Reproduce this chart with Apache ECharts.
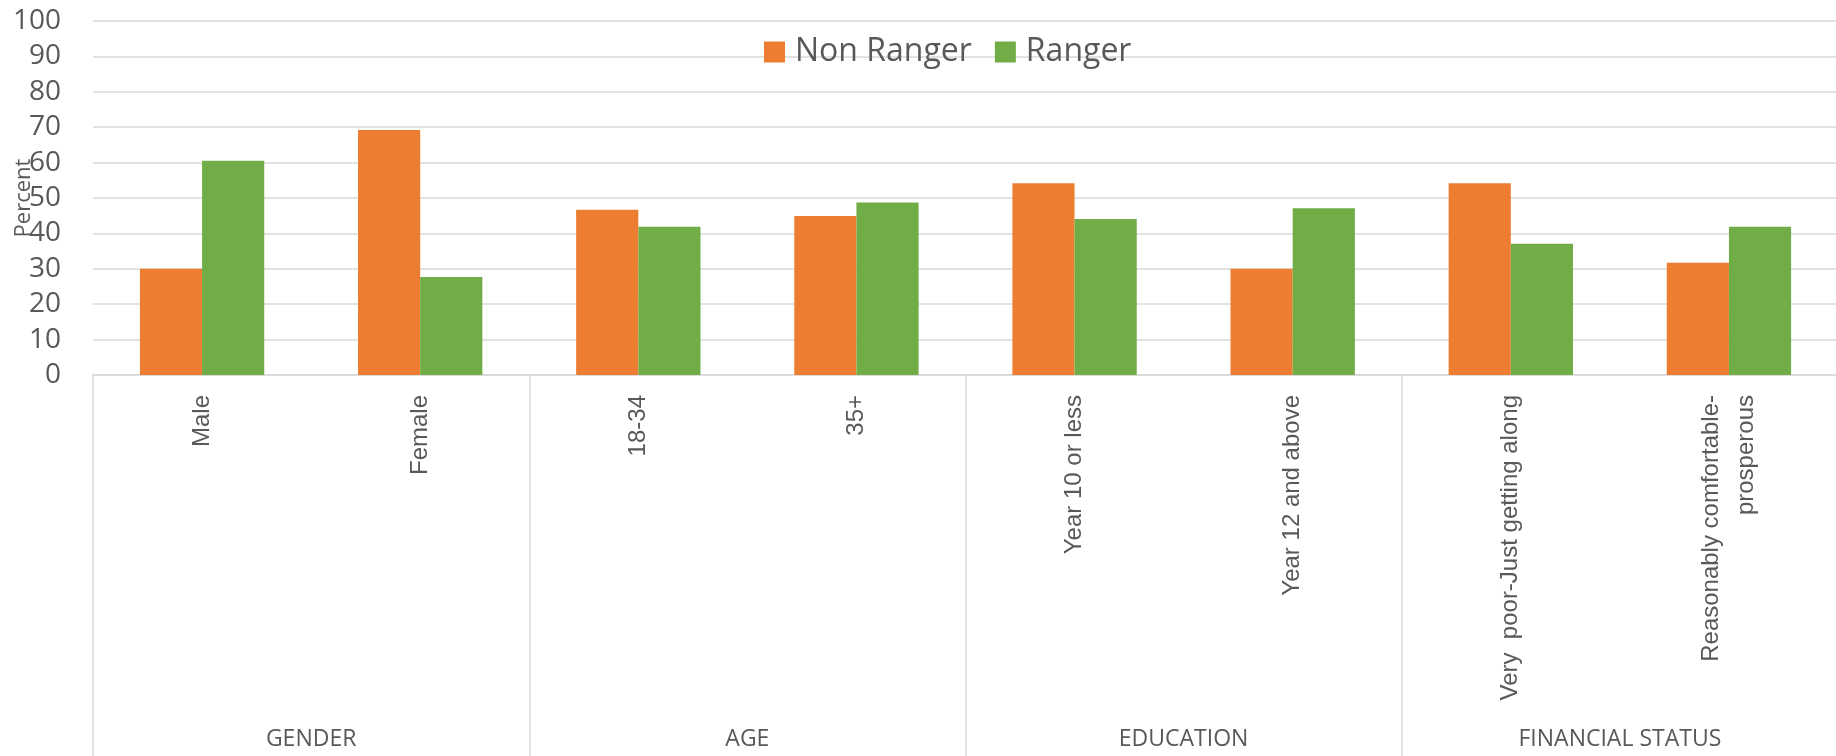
<!DOCTYPE html>
<html>
<head>
<meta charset="utf-8">
<title>Non Ranger vs Ranger</title>
<script src="https://cdn.jsdelivr.net/npm/echarts@6/dist/echarts.min.js"></script>
<style>
  html, body { margin: 0; padding: 0; background: #ffffff; }
  #chart { width: 1836px; height: 756px; }
</style>
</head>
<body>
<div id="chart"></div>
<script>
// Sub-groups along the bottom axis, and the headings they belong to
const categories = [
  'Male', 'Female',
  '18-34', '35+',
  'Year 10 or less', 'Year 12 and above',
  'Very  poor-Just getting along', 'Reasonably comfortable-\nprosperous'
];
const groups = ['GENDER', 'AGE', 'EDUCATION', 'FINANCIAL STATUS'];

// Percent of respondents in each sub-group
const nonRanger = [30, 69.2, 46.7, 44.9, 54.2, 30, 54.2, 31.7];
const ranger = [60.5, 27.7, 41.9, 48.7, 44.1, 47.1, 37.1, 41.9];

const yTicks = { min: 0, max: 100, interval: 10 };

const textGrey = '#595959';
const lineGrey = '#d9d9d9';

const chart = echarts.init(document.getElementById('chart'), null, { renderer: 'canvas' });

chart.setOption({
  animation: false,
  color: ['#ED7D31', '#70AD47'],
  grid: {
    left: 93, top: 21, width: 1745, bottom: 381,
    containLabel: false,
    outerBoundsMode: 'none'
  },
  legend: {
    data: ['Non Ranger', 'Ranger'],
    left: 759,
    top: 31,
    itemWidth: 21,
    itemHeight: 21,
    itemGap: 23,
    icon: 'rect',
    textStyle: { fontFamily: 'Open Sans', fontSize: 32, color: textGrey, padding: [0, 0, 0, 5] }
  },
  xAxis: [
    {
      type: 'category',
      data: categories,
      position: 'bottom',
      axisLine: { show: true, lineStyle: { color: lineGrey, width: 1.5 } },
      axisTick: { show: false },
      axisLabel: {
        rotate: 90,
        interval: 0,
        margin: 20,
        fontFamily: 'Liberation Sans',
        fontSize: 24,
        lineHeight: 35,
        color: textGrey
      }
    },
    {
      type: 'category',
      data: groups,
      position: 'bottom',
      axisLine: { show: false },
      axisTick: { show: true, length: 381, lineStyle: { color: lineGrey, width: 1.5 } },
      axisLabel: {
        interval: 0,
        margin: 353,
        fontFamily: 'Open Sans',
        fontSize: 23,
        color: textGrey
      },
      splitLine: { show: false }
    }
  ],
  yAxis: {
    type: 'value',
    min: yTicks.min,
    max: yTicks.max,
    interval: yTicks.interval,
    name: 'Percent',
    nameLocation: 'middle',
    nameRotate: 90,
    nameGap: 58,
    nameMoveOverlap: false,
    nameTextStyle: {
      fontFamily: 'Open Sans',
      fontSize: 22,
      lineHeight: 22,
      color: textGrey
    },
    axisLine: { show: false },
    axisTick: { show: false },
    axisLabel: { margin: 32, fontFamily: 'Open Sans', fontSize: 28, color: textGrey },
    splitLine: { lineStyle: { color: lineGrey, width: 1.5 } }
  },
  series: [
    {
      name: 'Non Ranger',
      type: 'bar',
      xAxisIndex: 0,
      data: nonRanger,
      barGap: '0%',
      barCategoryGap: '43%'
    },
    {
      name: 'Ranger',
      type: 'bar',
      xAxisIndex: 0,
      data: ranger,
      barGap: '0%',
      barCategoryGap: '43%'
    }
  ]
});
</script>
</body>
</html>
